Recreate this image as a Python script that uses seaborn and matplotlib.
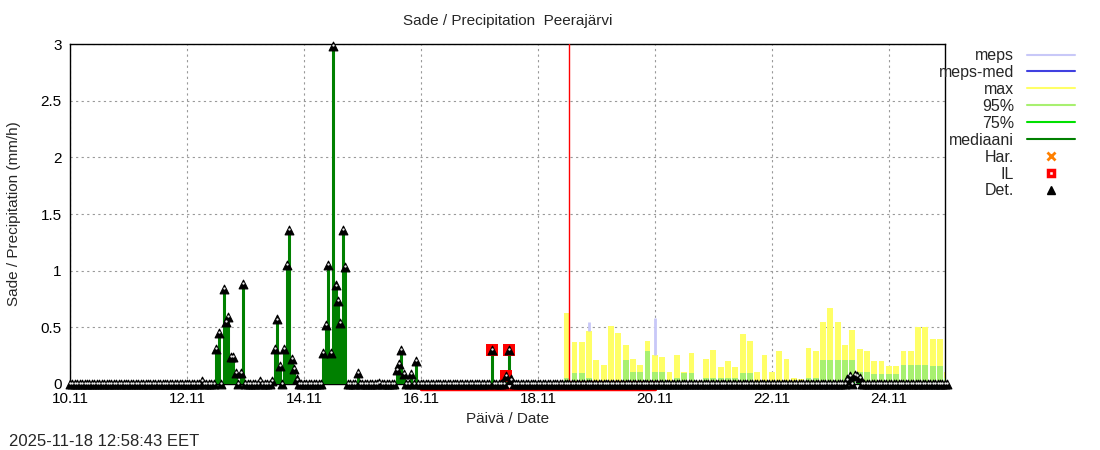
import numpy as np
import pandas as pd
import matplotlib
matplotlib.use("Agg")
import matplotlib.pyplot as plt
import seaborn as sns
from matplotlib.lines import Line2D

sns.set_theme(style="white")
plt.rcParams['font.family'] = ['Liberation Sans', 'DejaVu Sans']

# observations (hour since 10.11 00:00, mm/h); other hours are zero
obs_hour = [54, 60, 61, 63, 64, 65, 66, 67, 68, 70, 71, 78, 83, 84, 85, 86, 88, 89, 90, 91, 92, 93,
            104, 105, 106, 107, 108, 109, 110, 111, 112, 113, 118, 127, 134, 135, 136, 137, 140, 142,
            173, 179, 180, 181]
obs_val = [0.03, 0.31, 0.45, 0.84, 0.55, 0.59, 0.24, 0.24, 0.10, 0.10, 0.88, 0.03, 0.03, 0.31, 0.57, 0.16,
           0.31, 1.05, 1.36, 0.22, 0.13, 0.04,
           0.27, 0.52, 1.05, 0.27, 2.98, 0.87, 0.73, 0.54, 1.36, 1.03, 0.10, 0.01, 0.12, 0.18, 0.30, 0.09,
           0.09, 0.20, 0.30, 0.07, 0.30, 0.04]
il_hour = [173, 180, 179]
il_val = [0.30, 0.30, 0.07]
n_obs_hours = 205

# forecast 3-hourly ensemble statistics starting 18.11 ~10:50
fc_max = [0.63, 0.37, 0.37, 0.47, 0.21, 0.17, 0.51, 0.45, 0.34, 0.22, 0.17, 0.38, 0.26, 0.24, 0.11,
          0.26, 0.11, 0.27, 0.03, 0.22, 0.30, 0.15, 0.20, 0.15, 0.44, 0.38, 0.11, 0.26, 0.11, 0.29,
          0.22, 0.05, 0.04, 0.32, 0.29, 0.55, 0.67, 0.55, 0.34, 0.48, 0.31, 0.29, 0.20, 0.20, 0.16,
          0.16, 0.29, 0.29, 0.50, 0.50, 0.40, 0.40, 0.11]
fc_95 = [0.05, 0.10, 0.10, 0.05, 0.03, 0.03, 0.03, 0.03, 0.21, 0.11, 0.11, 0.29, 0.11, 0.11, 0.03,
         0.05, 0.10, 0.10, 0.02, 0.05, 0.05, 0.05, 0.05, 0.05, 0.10, 0.10, 0.02, 0.03, 0.03, 0.03,
         0.03, 0.02, 0.02, 0.05, 0.05, 0.21, 0.21, 0.21, 0.21, 0.21, 0.11, 0.11, 0.09, 0.09, 0.09,
         0.09, 0.17, 0.17, 0.17, 0.17, 0.16, 0.16, 0.05]
fc_75 = [0.03, 0.03, 0.03, 0.01, 0.01, 0.01, 0.01, 0.01, 0.02, 0.01, 0.01, 0.02, 0.01, 0.01, 0.0,
         0.01, 0.01, 0.01, 0.0, 0.01, 0.01, 0.01, 0.01, 0.01, 0.01, 0.01, 0.0, 0.0, 0.0, 0.0,
         0.0, 0.0, 0.0, 0.01, 0.01, 0.02, 0.02, 0.02, 0.02, 0.02, 0.01, 0.01, 0.01, 0.01, 0.01,
         0.01, 0.02, 0.02, 0.02, 0.02, 0.02, 0.02, 0.01]
meps_idx = [3, 12]
meps_val = [0.55, 0.58]
fc_start = 8.45
fc_step = 0.125
det_bump_day = [13.3, 13.35, 13.4, 13.45, 13.5]
det_bump_val = [0.04, 0.07, 0.08, 0.07, 0.05]
now_day = 8.54

xtick_days = [0, 2, 4, 6, 8, 10, 12, 14]
xtick_labels = ["10.11", "12.11", "14.11", "16.11", "18.11", "20.11", "22.11", "24.11"]

fig = plt.figure(figsize=(11, 4.5), dpi=100)
ax = fig.add_axes([0.0636, 0.1467, 0.7955, 0.7553])

# forecast bars
fc_x = fc_start + fc_step * np.arange(len(fc_max))
w = fc_step * 0.8
ax.bar(fc_x, fc_max, width=w, color="#ffff66", align="edge", lw=0, zorder=2)
ax.bar(fc_x, fc_95, width=w, color="#a8f070", align="edge", lw=0, zorder=3)
ax.bar(fc_x, fc_75, width=w, color="#00e000", align="edge", lw=0, zorder=3)
for i, v in zip(meps_idx, meps_val):
    ax.vlines(fc_x[i] + w * 0.5, fc_max[i], v, color="#c8c8f8", lw=2, zorder=2)

# observations
obs = np.zeros(n_obs_hours)
for h, v in zip(obs_hour, obs_val):
    obs[h] = v
obs_days = np.arange(n_obs_hours) / 24.0
ax.vlines(obs_days, 0, obs, color="#008000", lw=2.2, zorder=4)

# IL line below zero and squares
ax.plot([6.0, 10.0], [-0.045, -0.045], color="red", lw=2.5, clip_on=False, zorder=3)
ax.plot([8.5, 10.1], [0.02, 0.02], color="red", lw=2, zorder=3)
ax.scatter(np.array(il_hour) / 24.0, il_val, marker="s", s=70, color="red", lw=0, zorder=5)

# deterministic triangles
fc_det_days = np.arange(now_day, 15.0, 1 / 24.0)
fc_det = np.zeros(len(fc_det_days))
for d, v in zip(det_bump_day, det_bump_val):
    fc_det[np.argmin(np.abs(fc_det_days - d))] = v
det = pd.DataFrame({"day": np.concatenate([obs_days, fc_det_days]),
                    "val": np.concatenate([obs, fc_det])})
sns.scatterplot(data=det, x="day", y="val", marker="^", s=40, color="black",
                edgecolor="black", linewidth=0.8, ax=ax, zorder=6, clip_on=False, legend=False)
ax.scatter(det["day"], det["val"] + 0.008, marker=".", s=1.5, color="white", zorder=7, clip_on=False)

ax.axvline(now_day, color="red", lw=1, zorder=5)

ax.set_xlim(0, 14.96)
ax.set_ylim(0, 3)
ax.set_yticks([0, 0.5, 1, 1.5, 2, 2.5, 3])
ax.set_yticklabels(["0", "0.5", "1", "1.5", "2", "2.5", "3"])
ax.set_xticks(xtick_days)
ax.set_xticklabels(xtick_labels)
ax.grid(True, color="#999999", ls=(0, (2, 3)), lw=0.8)
for s in ax.spines.values():
    s.set_color("black")
    s.set_linewidth(1)
ax.tick_params(direction="in", length=5, labelsize=11, colors="black", pad=6)
ax.set_xlabel("Päivä / Date", fontsize=11)
ax.set_ylabel("Sade / Precipitation (mm/h)", fontsize=11, labelpad=14)
ax.set_title("Sade / Precipitation  Peerajärvi", fontsize=11, pad=14)

# legend
handles = [Line2D([], [], color="#c8c8f8", lw=1.5), Line2D([], [], color="#4040e0", lw=1.5),
           Line2D([], [], color="#ffff66", lw=1.5), Line2D([], [], color="#a8f070", lw=1.5),
           Line2D([], [], color="#00e000", lw=1.5), Line2D([], [], color="#008000", lw=1.5),
           Line2D([], [], color="#ff8000", marker="x", ls="", mew=2),
           Line2D([], [], color="red", marker="s", ls="", mfc="white", mew=2.5, ms=5),
           Line2D([], [], color="black", marker="^", ls="")]
labels = ["meps", "meps-med", "max", "95%", "75%", "mediaani", "Har.", "IL", "Det."]
fig.legend(handles, labels, loc="upper right", bbox_to_anchor=(0.99, 0.925), frameon=False,
           markerfirst=False, fontsize=11.5, handlelength=3.0, labelspacing=0.12, handletextpad=0.8)

fig.text(0.008, 0.01, "2025-11-18 12:58:43 EET", fontsize=12)
fig.savefig("out.png", dpi=100)
